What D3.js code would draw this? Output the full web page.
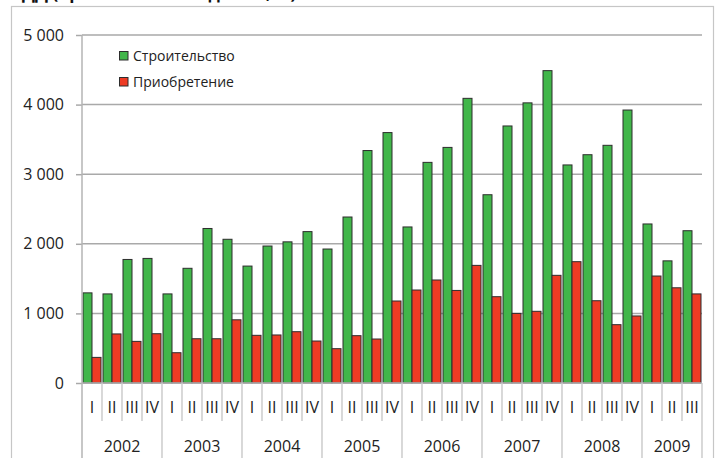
<!DOCTYPE html>
<html>
<head>
<meta charset="utf-8">
<script src="https://cdn.jsdelivr.net/npm/d3@7"></script>
<style>
  body { margin: 0; background: #fff; }
  svg { display: block; }
</style>
</head>
<body>
<div id="graf"></div>
<script>
// Датасет по кварталам
years = ['2002', '2003', '2004', '2005', '2006', '2007', '2008', '2009']
quarterNames = ['I', 'II', 'III', 'IV']
quartersPerYear = [4, 4, 4, 4, 4, 4, 4, 3]
series = ['Строительство', 'Приобретение']

stroitelstvo = [1295, 1280, 1775, 1790, 1280, 1648, 2220, 2065,
                1680, 1968, 2028, 2175, 1925, 2385, 3340, 3598,
                2242, 3170, 3385, 4090, 2705, 3693, 4025, 4488,
                3133, 3280, 3415, 3922, 2285, 1755, 2188]
priobretenie = [368, 705, 598, 708, 435, 636, 636, 908,
                685, 690, 737, 603, 493, 680, 632, 1178,
                1336, 1480, 1330, 1690, 1240, 1000, 1030, 1547,
                1743, 1182, 838, 963, 1537, 1368, 1280]

yTicks = [0, 1000, 2000, 3000, 4000, 5000]

ancho_total = 720
alto_total = 458
margins = { top: 35, left: 82, right: 18, bottom: 75 }
ancho = ancho_total - margins.left - margins.right
alto = alto_total - margins.top - margins.bottom

fuente = "'Open Sans', 'DejaVu Sans', sans-serif"
colores = ['#41b64a', '#ee3b24']

// categorías "año-trimestre"
cats = []
years.forEach((y, i) => {
  for (let q = 0; q < quartersPerYear[i]; q++) cats.push({ year: y, q: quarterNames[q], key: y + '-' + quarterNames[q] })
})
datos = cats.map((c, i) => ({ key: c.key, values: [stroitelstvo[i], priobretenie[i]] }))

svg = d3.select('#graf').append('svg')
  .attr('width', ancho_total)
  .attr('height', alto_total)
  .style('font-family', fuente)

// título (cortado arriba, como en el original)
svg.append('text')
  .attr('x', 22)
  .attr('y', -1)
  .attr('font-size', '17px')
  .attr('font-weight', 'bold')
  .attr('fill', '#111')
  .text('ДД (приемка жилых домов, %)')

// marco
svg.append('rect')
  .attr('x', 11.5)
  .attr('y', 6.5)
  .attr('width', 702)
  .attr('height', 470)
  .attr('fill', 'none')
  .attr('stroke', '#c6c6c6')
  .attr('stroke-width', 1.2)

g = svg.append('g')
  .attr('transform', `translate(${margins.left}, ${margins.top})`)

// Escaladores
x0 = d3.scaleBand().domain(cats.map(c => c.key)).range([0, ancho])
x1 = d3.scaleBand().domain(series).range([1, x0.bandwidth() - 1])
y = d3.scaleLinear().domain([0, 5000]).range([alto, 0])

// grilla
g.selectAll('.grid')
  .data(yTicks.slice(1))
  .enter().append('line')
  .attr('x1', 0).attr('x2', ancho)
  .attr('y1', d => y(d)).attr('y2', d => y(d))
  .attr('stroke', '#a9a9a9')
  .attr('stroke-width', 1.5)

// eje Y
yAxis = g.append('g')
  .call(d3.axisLeft(y).tickValues(yTicks).tickSize(6).tickPadding(12)
    .tickFormat(d => d3.format(',')(d).replace(/,/g, ' ')))
yAxis.select('.domain').remove()
yAxis.selectAll('line').attr('stroke', '#a9a9a9').attr('stroke-width', 1.5)
yAxis.selectAll('text').attr('font-size', '16px').attr('fill', '#222').attr('font-family', fuente)

// barras
grupos = g.selectAll('.cat')
  .data(datos)
  .enter().append('g')
  .attr('transform', d => `translate(${x0(d.key)}, 0)`)

grupos.selectAll('rect')
  .data(d => d.values.map((v, i) => ({ s: series[i], v: v, i: i })))
  .enter().append('rect')
  .attr('x', d => x1(d.s))
  .attr('y', d => y(d.v))
  .attr('width', x1.bandwidth())
  .attr('height', d => y(0) - y(d.v))
  .attr('fill', d => colores[d.i])
  .attr('stroke', '#2d2d2d')
  .attr('stroke-width', 1)

// eje X: líneas verticales
g.append('line')
  .attr('x1', 0).attr('x2', 0)
  .attr('y1', 0).attr('y2', alto + margins.bottom)
  .attr('stroke', '#b4b4b4').attr('stroke-width', 1.5)
g.append('line')
  .attr('x1', 0).attr('x2', ancho)
  .attr('y1', alto).attr('y2', alto)
  .attr('stroke', '#b4b4b4').attr('stroke-width', 1.5)

// separadores de trimestres
g.selectAll('.sepq')
  .data(cats.slice(1))
  .enter().append('line')
  .attr('x1', d => x0(d.key)).attr('x2', d => x0(d.key))
  .attr('y1', alto).attr('y2', d => d.q == 'I' ? alto + margins.bottom : alto + 38)
  .attr('stroke', '#c4c4c4').attr('stroke-width', 1.3)
g.append('line')
  .attr('x1', ancho).attr('x2', ancho)
  .attr('y1', alto).attr('y2', alto + margins.bottom)
  .attr('stroke', '#c4c4c4').attr('stroke-width', 1.3)

// etiquetas de trimestres
g.selectAll('.qlab')
  .data(cats)
  .enter().append('text')
  .attr('x', d => x0(d.key) + x0.bandwidth() / 2)
  .attr('y', alto + 30)
  .attr('text-anchor', 'middle')
  .attr('font-size', '16px')
  .attr('fill', '#222')
  .text(d => d.q)

// etiquetas de años
g.selectAll('.ylab')
  .data(years)
  .enter().append('text')
  .attr('x', d => {
    let qs = cats.filter(c => c.year == d)
    return (x0(qs[0].key) + x0(qs[qs.length - 1].key) + x0.bandwidth()) / 2
  })
  .attr('y', alto + 69)
  .attr('text-anchor', 'middle')
  .attr('font-size', '16px')
  .attr('fill', '#222')
  .text(d => d)

// leyenda
leg = svg.append('g').attr('transform', 'translate(119, 51)')
leg.selectAll('rect')
  .data(series)
  .enter().append('rect')
  .attr('x', 0.5)
  .attr('y', (d, i) => i * 26 + 0.5)
  .attr('width', 8.5)
  .attr('height', 8.5)
  .attr('fill', (d, i) => colores[i])
  .attr('stroke', '#2d2d2d')
leg.selectAll('text')
  .data(series)
  .enter().append('text')
  .attr('x', 14)
  .attr('y', (d, i) => i * 26 + 9.5)
  .attr('font-size', '14px')
  .attr('fill', '#222')
  .text(d => d)
</script>
</body>
</html>
